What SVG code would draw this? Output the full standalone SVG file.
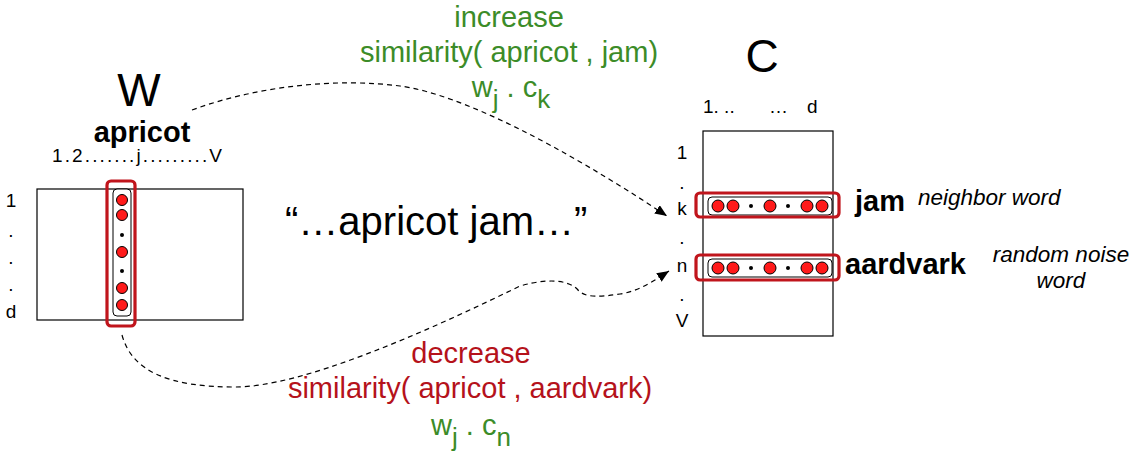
<svg xmlns="http://www.w3.org/2000/svg" width="1137" height="456" viewBox="0 0 1137 456">
<defs>
<style>
text{font-family:"Liberation Sans",Arial,sans-serif;fill:#000}
.mat{fill:#fff;stroke:#000;stroke-width:1.2}
.sel{fill:none;stroke:#c0151c;stroke-width:3.2}
.vec{fill:#fff;stroke:#000;stroke-width:1}
.bead{fill:#ff1a1a;stroke:#000;stroke-width:1}
.dot{fill:#000}
.ax{font-size:19px}
.big{font-size:46px}
.bold{font-size:29px;font-weight:bold}
.note{font-size:22.5px;font-style:italic}
.green{fill:#3c8c28;font-size:29px}
.red{fill:#b5121b;font-size:29px}
.conn{fill:none;stroke:#000;stroke-width:1.2;stroke-dasharray:5 4}
</style>
<marker id="arrow" markerUnits="userSpaceOnUse" markerWidth="14" markerHeight="12" refX="12" refY="5" orient="auto">
<path d="M0,0 L12,5 L0,10 Z" fill="#000"/>
</marker>
</defs>
<rect width="1137" height="456" fill="#fff"/>

<g id="W">
<text class="big" x="139" y="106" text-anchor="middle">W</text>
<text class="bold" x="142" y="142" text-anchor="middle">apricot</text>
<text class="ax" x="52" y="162" textLength="170" lengthAdjust="spacing">1.2.......j.........V</text>
<rect class="mat" x="37" y="189" width="206" height="131"/>
<text class="ax" x="11" y="207" text-anchor="middle">1</text>
<text class="ax" x="11" y="237" text-anchor="middle">.</text>
<text class="ax" x="11" y="264" text-anchor="middle">.</text>
<text class="ax" x="11" y="291" text-anchor="middle">.</text>
<text class="ax" x="11" y="318" text-anchor="middle">d</text>
</g>

<g id="w_j">
<rect class="vec" x="113" y="189" width="18" height="127" rx="4"/>
<circle class="bead" cx="122" cy="200" r="5.5"/>
<circle class="bead" cx="122" cy="215" r="5.5"/>
<circle class="dot" cx="122" cy="235" r="2"/>
<circle class="bead" cx="122" cy="252" r="5.5"/>
<circle class="dot" cx="122" cy="271" r="2"/>
<circle class="bead" cx="122" cy="288" r="5.5"/>
<circle class="bead" cx="122" cy="305" r="5.5"/>
<rect class="sel" x="107" y="181" width="28" height="145" rx="4"/>
</g>

<g id="C">
<text class="big" x="762" y="72" text-anchor="middle">C</text>
<text class="ax" y="113"><tspan x="703">1. ..</tspan><tspan x="769">…</tspan><tspan x="807">d</tspan></text>
<rect class="mat" x="703" y="131" width="130" height="205"/>
<text class="ax" x="682" y="159" text-anchor="middle">1</text>
<text class="ax" x="682" y="189" text-anchor="middle">.</text>
<text class="ax" x="682" y="215" text-anchor="middle">k</text>
<text class="ax" x="682" y="244" text-anchor="middle">.</text>
<text class="ax" x="682" y="272" text-anchor="middle">n</text>
<text class="ax" x="682" y="301" text-anchor="middle">.</text>
<text class="ax" x="682" y="327" text-anchor="middle">V</text>
</g>

<g id="c_k">
<rect class="vec" x="708" y="197" width="124" height="18" rx="4"/>
<circle class="bead" cx="718" cy="206" r="6"/>
<circle class="bead" cx="733" cy="206" r="6"/>
<circle class="dot" cx="751" cy="206" r="2"/>
<circle class="bead" cx="770" cy="206" r="6"/>
<circle class="dot" cx="788" cy="206" r="2"/>
<circle class="bead" cx="807" cy="206" r="6"/>
<circle class="bead" cx="822" cy="206" r="6"/>
<rect class="sel" x="696" y="193" width="143" height="24" rx="4"/>
<text class="bold" x="855" y="211">jam</text>
<text class="note" x="918" y="205">neighbor word</text>
</g>

<g id="c_n">
<rect class="vec" x="708" y="259" width="124" height="18" rx="4"/>
<circle class="bead" cx="718" cy="268" r="6"/>
<circle class="bead" cx="733" cy="268" r="6"/>
<circle class="dot" cx="751" cy="268" r="2"/>
<circle class="bead" cx="770" cy="268" r="6"/>
<circle class="dot" cx="788" cy="268" r="2"/>
<circle class="bead" cx="807" cy="268" r="6"/>
<circle class="bead" cx="822" cy="268" r="6"/>
<rect class="sel" x="696" y="255" width="143" height="25" rx="4"/>
<text class="bold" x="845" y="274">aardvark</text>
<text class="note" x="1061" y="262" text-anchor="middle">random noise</text>
<text class="note" x="1061" y="288" text-anchor="middle">word</text>
</g>

<g id="context">
<text x="285" y="235" font-size="40">“…apricot jam…”</text>
</g>

<g id="increase-label">
<text class="green" x="509" y="27" text-anchor="middle">increase</text>
<text class="green" x="509" y="62" text-anchor="middle">similarity( apricot , jam)</text>
<text class="green" x="511" y="97" text-anchor="middle">w<tspan dy="11" font-size="26">j</tspan><tspan dy="-11"> . c</tspan><tspan dy="11" font-size="26">k</tspan></text>
</g>

<g id="decrease-label">
<text class="red" x="471" y="363" text-anchor="middle">decrease</text>
<text class="red" x="470" y="398" text-anchor="middle">similarity( apricot , aardvark)</text>
<text class="green" x="471" y="435" text-anchor="middle">w<tspan dy="11" font-size="26">j</tspan><tspan dy="-11"> . c</tspan><tspan dy="11" font-size="26">n</tspan></text>
</g>

<g id="connectors">
<path class="conn" d="M192,110 C260,85 340,78 400,86 S560,145 667,216" marker-end="url(#arrow)"/>
<path class="conn" d="M122,335 C132,372 170,387 235,387 S420,335 520,286 C555,276 572,283 578,290 C585,298 600,297 620,294 C640,291 655,280 669,271" marker-end="url(#arrow)"/>
</g>
</svg>
